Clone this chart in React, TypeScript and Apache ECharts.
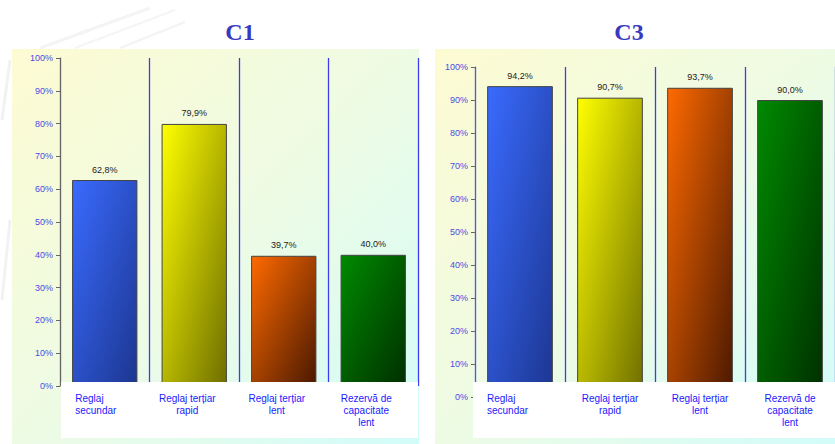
import React, { useEffect, useRef } from "react";
import * as echarts from "echarts";

const categories = ["Reglaj\nsecundar", "Reglaj terțiar\nrapid", "Reglaj terțiar\nlent", "Rezervă de\ncapacitate\nlent"];
const c1Values = [62.8, 79.9, 39.7, 40.0];
const c3Values = [94.2, 90.7, 93.7, 90.0];
const titles = ["C1", "C3"];

const barGradients: [string, string][] = [
  ["#3a6bff", "#1c3690"],
  ["#ffff00", "#6e6e00"],
  ["#ff6a00", "#4a1800"],
  ["#008a00", "#002f00"],
];

const FONT = "Liberation Sans";
const LABEL_COLOR = "#1a1aff";

function grad(c: [string, string]) {
  return new echarts.graphic.LinearGradient(0, 0, 1, 1, [
    { offset: 0, color: c[0] },
    { offset: 1, color: c[1] },
  ]);
}

function panelGrad() {
  return new echarts.graphic.LinearGradient(0, 0, 1, 1, [
    { offset: 0, color: "#fdfbd2" },
    { offset: 0.5, color: "#eefbe4" },
    { offset: 1, color: "#d2fcfa" },
  ]);
}

export default function App() {
  const ref = useRef<HTMLDivElement>(null);
  useEffect(() => {
    if (!ref.current) return;
    const chart = echarts.init(ref.current, undefined, { renderer: "svg" });
    const makeSeries = (vals: number[], idx: number) => ({
      type: "bar",
      xAxisIndex: idx * 2,
      yAxisIndex: idx,
      barWidth: "73%",
      data: vals.map((v, i) => ({
        value: v,
        itemStyle: { color: grad(barGradients[i]), borderColor: "#444", borderWidth: 1 },
      })),
      label: {
        show: true,
        position: "top",
        distance: 6,
        color: "#222",
        fontSize: 9,
        fontFamily: FONT,
        formatter: (p: any) => p.value.toFixed(1).replace(".", ",") + "%",
      },
    });
    const lineAxis = (gi: number) => ({
      type: "category",
      gridIndex: gi,
      data: categories,
      position: "bottom",
      z: 0,
      axisLine: { show: false },
      axisTick: { show: false },
      axisLabel: { show: false },
      splitLine: { show: true, interval: 0, lineStyle: { color: "#3c3cf0", width: 1.3 } },
    });
    const labelAxis = (gi: number, margin: number, padAll: number, padFirst: number) => ({
      type: "category",
      gridIndex: gi,
      data: categories.map((c, i) =>
        i === 0 ? { value: c, textStyle: { padding: [0, padFirst, 0, 0] } } : c
      ),
      position: "bottom",
      z: 60,
      axisLine: { show: false },
      axisTick: { show: false },
      splitLine: { show: false },
      axisLabel: {
        interval: 0,
        margin,
        color: LABEL_COLOR,
        fontSize: 10,
        lineHeight: 12,
        fontFamily: FONT,
        verticalAlign: "top",
        padding: [0, padAll, 0, 0],
        formatter: (v: string) =>
          v === categories[0]
            ? v
                .split("\n")
                .map((s) => `{L|${s}}`)
                .join("\n")
            : v,
        rich: {
          L: {
            width: 44,
            align: "left",
            color: LABEL_COLOR,
            fontSize: 10,
            lineHeight: 12,
            fontFamily: FONT,
          },
        },
      },
    });
    const yAx = (gi: number) => ({
      type: "value",
      gridIndex: gi,
      min: 0,
      max: 100,
      interval: 10,
      z: 3,
      axisLine: { show: true, lineStyle: { color: "#666", width: 1 } },
      axisTick: { show: true, length: 4, lineStyle: { color: "#666" } },
      splitLine: { show: false },
      axisLabel: {
        formatter: (v: number) => v + "%",
        color: "#4a4ae6",
        fontSize: 9,
        fontFamily: FONT,
        margin: 7,
      },
    });
    chart.setOption({
      animation: false,
      backgroundColor: "#ffffff",
      title: [
        {
          text: titles[0],
          left: 235,
          top: 15,
          textAlign: "center",
          textStyle: { color: "#3838c0", fontSize: 24, fontWeight: "bold", fontFamily: "Liberation Serif" },
        },
        {
          text: titles[1],
          left: 624,
          top: 15,
          textAlign: "center",
          textStyle: { color: "#3838c0", fontSize: 24, fontWeight: "bold", fontFamily: "Liberation Serif" },
        },
      ],
      graphic: [
        { type: "line", z: -5, shape: { x1: 40, y1: 48, x2: 150, y2: 8 }, style: { stroke: "#f4f4f4", lineWidth: 3 } },
        { type: "line", z: -5, shape: { x1: 75, y1: 48, x2: 175, y2: 10 }, style: { stroke: "#f5f5f5", lineWidth: 2 } },
        { type: "line", z: -5, shape: { x1: 120, y1: 48, x2: 185, y2: 22 }, style: { stroke: "#f3f3f3", lineWidth: 2 } },
        { type: "line", z: -5, shape: { x1: 2, y1: 120, x2: 10, y2: 60 }, style: { stroke: "#f2f2f2", lineWidth: 3 } },
        { type: "line", z: -5, shape: { x1: 2, y1: 300, x2: 10, y2: 220 }, style: { stroke: "#f2f2f2", lineWidth: 3 } },
        { type: "rect", z: -1, shape: { x: 12, y: 49, width: 407, height: 395 }, style: { fill: panelGrad() } },
        { type: "rect", z: -1, shape: { x: 435, y: 49, width: 400, height: 395 }, style: { fill: panelGrad() } },
        { type: "rect", z: 50, shape: { x: 61, y: 382, width: 357, height: 56 }, style: { fill: "#ffffff" } },
        { type: "rect", z: 50, shape: { x: 473, y: 382, width: 362, height: 56 }, style: { fill: "#ffffff" } },
      ],
      grid: [
        { left: 60, top: 58, width: 358, height: 328 },
        { left: 475, top: 67, width: 370, height: 330 },
      ],
      xAxis: [lineAxis(0), labelAxis(0, 6, 14, 15), lineAxis(1), labelAxis(1, -5, 0, 22)],
      yAxis: [yAx(0), yAx(1)],
      series: [makeSeries(c1Values, 0), makeSeries(c3Values, 1)],
    });
    return () => chart.dispose();
  }, []);
  return (
    <div
      ref={ref}
      style={{ position: "absolute", left: 0, top: 0, width: 835, height: 444 }}
    />
  );
}
